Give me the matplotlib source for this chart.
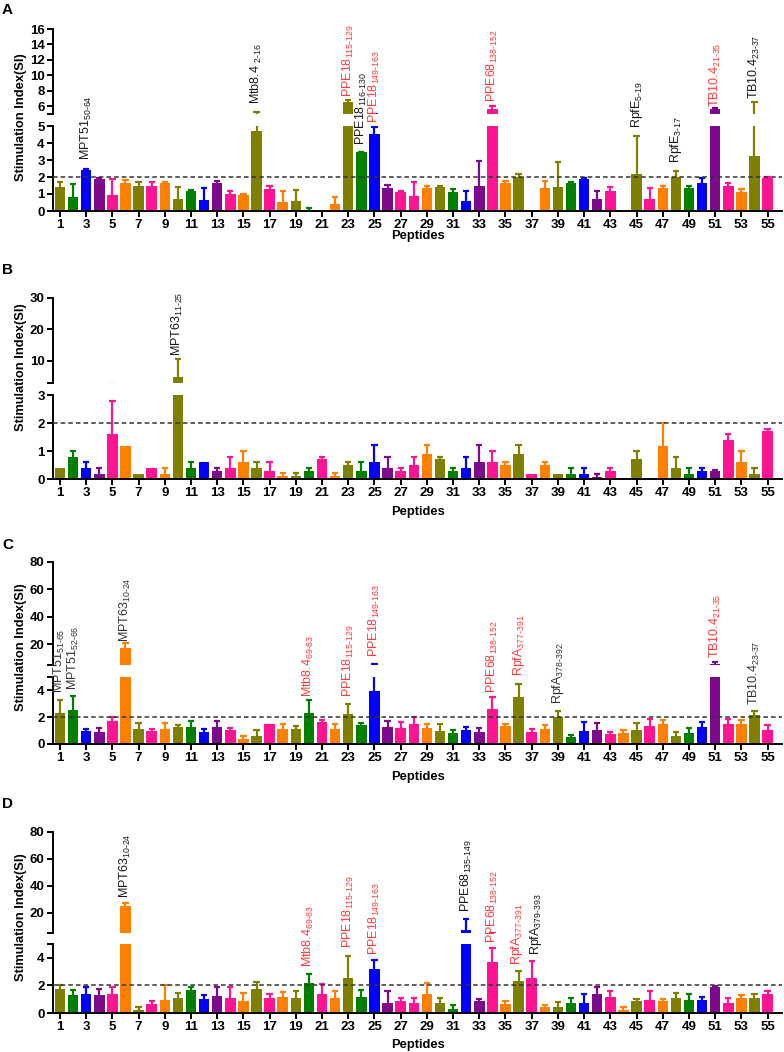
import numpy as np
import matplotlib
matplotlib.use("Agg")
import matplotlib.pyplot as plt

plt.rcParams['font.family'] = ['Liberation Sans', 'DejaVu Sans']
plt.rcParams['mathtext.fontset'] = 'custom'
plt.rcParams['mathtext.rm'] = 'Liberation Sans'
plt.rcParams['mathtext.default'] = 'regular'

# peptide numbers and the colour code of each bar
peptides = np.arange(1, 56)
color_codes = "OGBPKR" "OKRO" "GBPKRO" "KRO" "GKROGB" "PKKRO" "GBPKRO" "KRO" "GBPKRO" "KRO" "GBPKROK"
palette = {'O': '#808000', 'G': '#008000', 'B': '#0000ff', 'P': '#7d0a8c',
           'K': '#ff1493', 'R': '#ff8000'}

# panel A
si_a = [1.40, 0.80, 2.40, 1.90, 0.95, 1.65, 1.50, 1.45, 1.65, 0.70,
        1.20, 0.65, 1.65, 1.00, 0.95, 4.70, 1.30, 0.55, 0.60, 0.05,
        0.00, 0.40, 6.50, 3.45, 4.55, 1.38, 1.13, 0.87, 1.36, 1.42,
        1.10, 0.58, 1.50, 5.70, 1.67, 2.00, 0.00, 1.36, 1.42, 1.63,
        1.90, 0.68, 1.15, 0.06, 2.20, 0.68, 1.38, 2.00, 1.34, 1.67,
        5.60, 1.47, 1.10, 3.26, 1.96]
sd_a = [0.30, 0.80, 0.05, 0.05, 0.95, 0.20, 0.20, 0.25, 0.05, 0.70,
        0.05, 0.70, 0.10, 0.15, 0.05, 0.60, 0.20, 0.60, 0.65, 0.15,
        0.00, 0.45, 0.30, 0.05, 0.40, 0.17, 0.05, 0.83, 0.14, 0.05,
        0.18, 0.58, 1.47, 0.30, 0.12, 0.20, 0.00, 0.43, 1.45, 0.07,
        0.04, 0.48, 0.27, 0.00, 2.20, 0.68, 0.09, 0.33, 0.16, 0.27,
        0.20, 0.20, 0.20, 3.30, 0.04]

# panel B
si_b = [0.38, 0.80, 0.38, 0.19, 1.60, 1.19, 0.19, 0.40, 0.19, 5.00,
        0.40, 0.60, 0.29, 0.40, 0.60, 0.40, 0.29, 0.10, 0.10, 0.29,
        0.70, 0.10, 0.50, 0.29, 0.60, 0.40, 0.29, 0.50, 0.90, 0.70,
        0.29, 0.38, 0.60, 0.60, 0.50, 0.90, 0.18, 0.50, 0.18, 0.18,
        0.18, 0.08, 0.29, 0.00, 0.70, 0.00, 1.19, 0.38, 0.18, 0.29,
        0.29, 1.40, 0.60, 0.18, 1.70]
sd_b = [0.00, 0.20, 0.22, 0.21, 1.20, 0.00, 0.00, 0.00, 0.21, 5.50,
        0.20, 0.00, 0.11, 0.40, 0.40, 0.20, 0.31, 0.10, 0.10, 0.11,
        0.10, 0.10, 0.10, 0.31, 0.60, 0.40, 0.11, 0.30, 0.30, 0.10,
        0.11, 0.42, 0.60, 0.40, 0.10, 0.30, 0.00, 0.10, 0.00, 0.22,
        0.22, 0.11, 0.11, 0.00, 0.30, 0.00, 0.81, 0.42, 0.22, 0.11,
        0.04, 0.20, 0.40, 0.22, 0.10]

# panel C
si_c = [2.30, 2.55, 0.98, 0.88, 1.73, 17.6, 1.15, 1.00, 1.15, 1.24,
        1.29, 0.88, 1.24, 1.07, 0.39, 0.63, 1.46, 1.15, 1.15, 2.30,
        1.66, 1.15, 2.24, 1.39, 3.93, 1.29, 1.22, 1.46, 1.22, 0.98,
        0.80, 1.05, 0.88, 2.60, 1.37, 3.50, 0.88, 1.12, 2.05, 0.51,
        0.98, 1.05, 0.71, 0.80, 1.05, 1.37, 1.46, 0.63, 0.80, 1.27,
        5.40, 1.46, 1.46, 2.20, 1.05]
sd_c = [1.00, 1.05, 0.17, 0.34, 0.27, 3.10, 0.45, 0.15, 0.38, 0.17,
        0.39, 0.27, 0.46, 0.13, 0.21, 0.42, 0.00, 0.31, 0.19, 1.00,
        0.12, 0.31, 0.76, 0.19, 1.90, 0.44, 0.44, 0.56, 0.29, 0.48,
        0.25, 0.24, 0.34, 0.90, 0.14, 1.00, 0.22, 0.27, 0.41, 0.15,
        0.68, 0.49, 0.19, 0.22, 0.54, 0.51, 0.30, 0.27, 0.40, 0.39,
        1.80, 0.42, 0.30, 0.29, 0.36]

# panel D
si_d = [1.75, 1.31, 1.41, 1.31, 1.41, 25.4, 0.20, 0.62, 0.96, 1.09,
        1.65, 0.99, 1.21, 1.09, 0.86, 1.75, 1.09, 1.19, 1.09, 2.17,
        1.41, 1.09, 2.52, 1.19, 3.20, 0.75, 0.86, 0.74, 1.41, 0.74,
        0.30, 7.50, 0.84, 3.73, 0.62, 2.30, 2.52, 0.40, 0.40, 0.74,
        0.74, 1.41, 1.19, 0.20, 0.86, 0.96, 0.86, 1.09, 0.96, 0.96,
        1.85, 0.74, 1.09, 1.09, 1.41]
sd_d = [0.25, 0.37, 0.49, 0.42, 0.44, 2.00, 0.24, 0.24, 1.04, 0.34,
        0.25, 0.34, 0.64, 0.81, 0.60, 0.52, 0.32, 0.34, 0.54, 0.69,
        0.66, 0.54, 1.63, 0.49, 0.63, 0.84, 0.20, 0.36, 0.76, 0.35,
        0.27, 8.00, 0.20, 0.99, 0.27, 0.76, 1.23, 0.17, 0.37, 0.35,
        0.67, 0.44, 0.37, 0.24, 0.18, 0.60, 0.18, 0.34, 0.40, 0.23,
        0.10, 0.32, 0.22, 0.32, 0.15]

RED = '#ff3b3b'
BLK = '#1a1a1a'
GRY = '#333333'
H = '\u2010'
# (peptide position, name, subscript, text base in lower-axis units, colour)
labels_a = [(3, 'MPT51', '50' + H + '64', 3.0, BLK),
            (16, 'Mtb8.4 ', '2' + H + '16', 6.3, BLK),
            (23, 'PPE18', '115' + H + '129', 6.7, RED),
            (24, 'PPE18', '116' + H + '130', 3.9, BLK),
            (25, 'PPE18', '149' + H + '163', 5.2, RED),
            (34, 'PPE68', '138' + H + '152', 6.4, RED),
            (45, 'RpfE', '5' + H + '19', 4.9, BLK),
            (48, 'RpfE', '3' + H + '17', 2.8, BLK),
            (51, 'TB10.4', '21' + H + '35', 6.1, RED),
            (54, 'TB10.4', '23' + H + '37', 6.6, BLK)]
labels_b = [(10, 'MPT63', '11' + H + '25', 4.4, BLK)]
labels_c = [(1, 'MPT51', '51' + H + '65', 3.8, GRY),
            (2, 'MPT51', '52' + H + '66', 4.0, GRY),
            (6, 'MPT63', '10' + H + '24', 7.6, GRY),
            (20, 'Mtb8.4', '69' + H + '83', 3.5, RED),
            (23, 'PPE18', '115' + H + '129', 3.5, RED),
            (25, 'PPE18', '149' + H + '163', 6.5, RED),
            (34, 'PPE68', '138' + H + '152', 3.8, RED),
            (36, 'RpfA', '377' + H + '391', 5.1, RED),
            (39, 'RpfA', '378' + H + '392', 3.0, GRY),
            (51, 'TB10.4', '21' + H + '35', 6.4, RED),
            (54, 'TB10.4', '23' + H + '37', 2.9, GRY)]
labels_d = [(6, 'MPT63', '10' + H + '24', 8.3, BLK),
            (20, 'Mtb8.4', '69' + H + '83', 3.3, RED),
            (23, 'PPE18', '115' + H + '129', 4.7, RED),
            (25, 'PPE18', '149' + H + '163', 4.2, RED),
            (32, 'PPE68', '135' + H + '149', 7.3, BLK),
            (34, 'PPE68', '138' + H + '152', 5.1, RED),
            (35.9, 'RpfA', '377' + H + '391', 3.5, RED),
            (37.35, 'RpfA', '379' + H + '393', 4.2, BLK)]

# layout in pixels: letter y, upper axis (top, bottom), lower axis (top, bottom), limits, ticks
panels = [
    dict(letter='A', ly=3, up=(29, 114), low=(126, 211), up_lim=(5, 16), up_ticks=[6, 8, 10, 12, 14, 16],
         low_lim=(0, 5), low_ticks=[0, 1, 2, 3, 4, 5], ylab=117, xlab=236, si=si_a, sd=sd_a, labels=labels_a),
    dict(letter='B', ly=263, up=(298, 383), low=(395, 479), up_lim=(3, 30), up_ticks=[10, 20, 30],
         low_lim=(0, 3), low_ticks=[0, 1, 2, 3], ylab=367, xlab=512, si=si_b, sd=sd_b, labels=labels_b),
    dict(letter='C', ly=538, up=(562, 665), low=(677, 744), up_lim=(5, 80), up_ticks=[20, 40, 60, 80],
         low_lim=(0, 5), low_ticks=[0, 2, 4], ylab=647, xlab=777, si=si_c, sd=sd_c, labels=labels_c),
    dict(letter='D', ly=797, up=(832, 933), low=(944, 1013), up_lim=(5, 80), up_ticks=[20, 40, 60, 80],
         low_lim=(0, 5), low_ticks=[0, 2, 4], ylab=917, xlab=1045, si=si_d, sd=sd_d, labels=labels_d),
]

W, Hpx = 784, 1052
X0, X1 = 53, 782
fig = plt.figure(figsize=(W / 100, Hpx / 100), dpi=100)
colors = [palette[c] for c in color_codes]


def make_ax(top, bottom):
    return fig.add_axes([X0 / W, 1 - bottom / Hpx, (X1 - X0) / W, (bottom - top) / Hpx])


for p in panels:
    ax_up = make_ax(*p['up'])
    ax_lo = make_ax(*p['low'])
    si = np.array(p['si'])
    sd = np.array(p['sd'])
    top = si + sd
    has_err = sd > 0
    for ax in (ax_up, ax_lo):
        ax.bar(peptides, si, width=0.8, color=colors, zorder=2)
        ax.vlines(peptides, si, top, colors=colors, lw=1.6, zorder=1)
        ax.hlines(top[has_err], peptides[has_err] - 0.24, peptides[has_err] + 0.24,
                  colors=[c for c, e in zip(colors, has_err) if e], lw=1.6, zorder=1)
        ax.set_xlim(0.47, 56.1)
        ax.spines['top'].set_visible(False)
        ax.spines['right'].set_visible(False)
        ax.spines['left'].set_linewidth(1.4)
        ax.spines['bottom'].set_linewidth(1.4)
        ax.tick_params(axis='y', length=4, width=1.4, labelsize=9.5, pad=2)
    ax_up.set_ylim(*p['up_lim'])
    ax_up.set_yticks(p['up_ticks'])
    ax_up.spines['bottom'].set_visible(False)
    ax_up.set_xticks([])
    ax_lo.set_ylim(*p['low_lim'])
    ax_lo.set_yticks(p['low_ticks'])
    ax_lo.set_xticks(peptides[::2])
    ax_lo.tick_params(axis='x', length=4, width=1.4, labelsize=9.5, pad=2)
    for ax in (ax_up, ax_lo):
        for t in ax.get_yticklabels() + ax.get_xticklabels():
            t.set_fontweight('bold')
    # break marks at the ends of the two spine pieces
    ax_up.plot([-0.007, 0], [0, 0], transform=ax_up.transAxes, color='k', lw=1.4, clip_on=False)
    ax_lo.plot([-0.007, 0], [1, 1], transform=ax_lo.transAxes, color='k', lw=1.4, clip_on=False)
    ax_lo.axhline(2, color='#333333', lw=1.1, ls=(0, (3, 2)), zorder=3)

    for pep, name, sub, y, col in p['labels']:
        ax_lo.text(pep, y, name + '$_{' + sub + '}$', rotation=90, ha='center', va='bottom',
                   fontsize=9, color=col, clip_on=False)

    fig.text(2 / W, 1 - p['ly'] / Hpx, p['letter'], fontsize=11, fontweight='bold', va='top', ha='left')
    fig.text(21 / W, 1 - p['ylab'] / Hpx, 'Stimulation Index(SI)', rotation=90, fontsize=9.3,
             fontweight='bold', ha='center', va='center')
    fig.text(418 / W, 1 - p['xlab'] / Hpx, 'Peptides', fontsize=9.3, fontweight='bold',
             ha='center', va='center')

fig.savefig('out.png', dpi=100)
